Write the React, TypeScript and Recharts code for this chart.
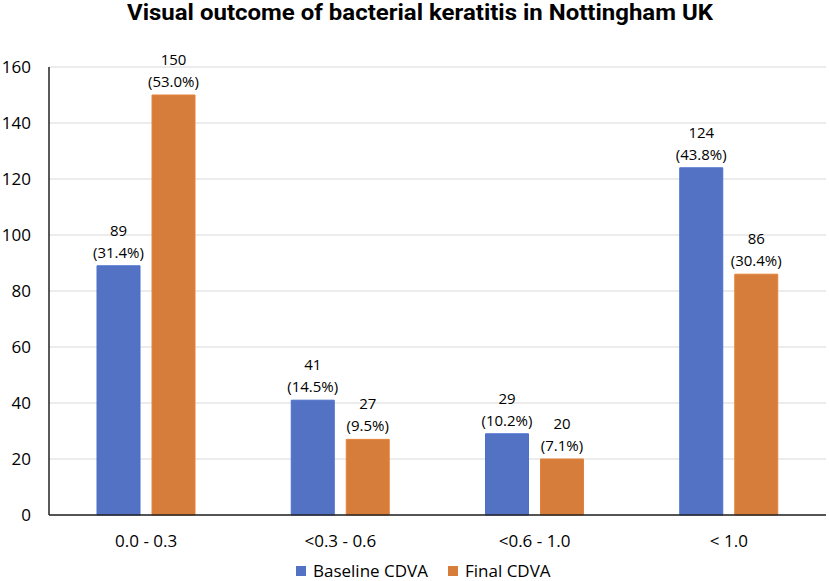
import { Bar, BarChart, CartesianGrid, LabelList, Legend, XAxis, YAxis } from "recharts";

const categories = ["0.0 - 0.3", "<0.3 - 0.6", "<0.6 - 1.0", "< 1.0"];
const baselineCounts = [89, 41, 29, 124];
const baselinePcts = ["31.4%", "14.5%", "10.2%", "43.8%"];
const finalCounts = [150, 27, 20, 86];
const finalPcts = ["53.0%", "9.5%", "7.1%", "30.4%"];
const yTicks = [0, 20, 40, 60, 80, 100, 120, 140, 160];

const TITLE = "Visual outcome of bacterial keratitis in Nottingham UK";
const BLUE = "#5472C4";
const ORANGE = "#D67D3B";
const FONT = "'Open Sans', sans-serif";
const TITLE_FONT = "Roboto, sans-serif";

const data = categories.map((name, i) => ({
  name,
  baseline: baselineCounts[i],
  baselinePct: baselinePcts[i],
  final: finalCounts[i],
  finalPct: finalPcts[i],
}));

// squeeze the title to the width it has in the reference
function titleScale(target: number): number {
  const ctx = document.createElement("canvas").getContext("2d");
  if (!ctx) return 1;
  ctx.font = `bold 22px ${TITLE_FONT}`;
  const w = ctx.measureText(TITLE).width;
  return w > 0 ? target / w : 1;
}

function makeLabel(pcts: string[]) {
  return function TwoLineLabel(props: any) {
    const { x, y, width, value, index } = props;
    const cx = Number(x) + Number(width) / 2;
    const top = Number(y);
    return (
      <g>
        <text x={cx} y={top - 36} textAnchor="middle" dominantBaseline="central" fontSize={15} fontFamily={FONT} fill="#000">
          {value}
        </text>
        <text x={cx} y={top - 14} textAnchor="middle" dominantBaseline="central" fontSize={15} fontFamily={FONT} fill="#000">
          ({pcts[index]})
        </text>
      </g>
    );
  };
}

function LegendContent() {
  const items = [
    { label: "Baseline CDVA", color: BLUE },
    { label: "Final CDVA", color: ORANGE },
  ];
  return (
    <div style={{ height: 30, boxSizing: "border-box", paddingTop: 10, paddingLeft: 296, display: "flex", alignItems: "center", gap: 20, fontFamily: FONT, fontSize: 17, lineHeight: "22px", color: "#000", whiteSpace: "nowrap" }}>
      {items.map((it) => (
        <div key={it.label} style={{ display: "flex", alignItems: "center", gap: 7 }}>
          <span style={{ display: "inline-block", width: 10, height: 10, background: it.color }} />
          <span>{it.label}</span>
        </div>
      ))}
    </div>
  );
}

export default function App() {
  const sx = titleScale(586);
  return (
    <div style={{ position: "absolute", left: 0, top: 0, width: 829, height: 581, background: "#fff" }}>
      <div
        style={{
          position: "absolute",
          left: 127,
          top: 0,
          fontFamily: TITLE_FONT,
          fontWeight: 700,
          fontSize: 22,
          whiteSpace: "nowrap",
          color: "#000",
          transform: `scaleX(${sx})`,
          transformOrigin: "left top",
          zIndex: 1,
        }}
      >
        {TITLE}
      </div>
      <BarChart
        width={829}
        height={581}
        data={data}
        margin={{ top: 67, right: 3, left: 0, bottom: 0 }}
        barSize={43}
        barGap={12}
      >
        <CartesianGrid vertical={false} stroke="#d9d9d9" strokeWidth={1} />
        <XAxis
          dataKey="name"
          height={36}
          tickLine={false}
          tickMargin={14}
          axisLine={{ stroke: "#222", strokeWidth: 1.5 }}
          tick={{ fontSize: 17, fontFamily: FONT, fill: "#000" }}
        />
        <YAxis
          width={49}
          domain={[0, 160]}
          ticks={yTicks}
          tickLine={false}
          tickMargin={12}
          axisLine={{ stroke: "#222", strokeWidth: 1.5 }}
          tick={{ fontSize: 17, fontFamily: FONT, fill: "#000" }}
        />
        <Legend verticalAlign="bottom" content={<LegendContent />} wrapperStyle={{ left: 0, width: 829 }} />
        <Bar dataKey="baseline" name="Baseline CDVA" fill={BLUE} stroke="#4a6fd0" strokeWidth={1} isAnimationActive={false}>
          <LabelList dataKey="baseline" content={makeLabel(baselinePcts)} />
        </Bar>
        <Bar dataKey="final" name="Final CDVA" fill={ORANGE} stroke="#e5823a" strokeWidth={1} isAnimationActive={false}>
          <LabelList dataKey="final" content={makeLabel(finalPcts)} />
        </Bar>
      </BarChart>
    </div>
  );
}
